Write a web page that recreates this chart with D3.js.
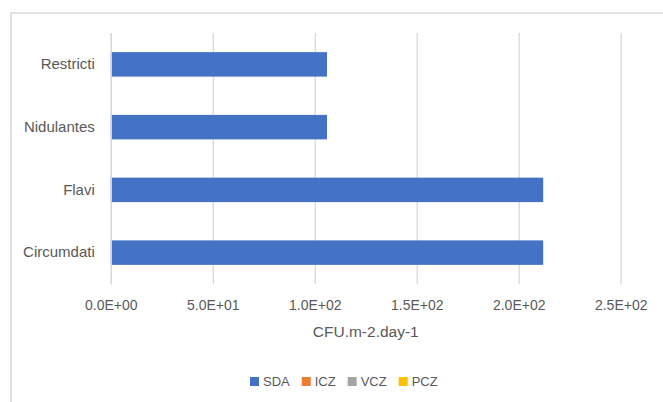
<!DOCTYPE html>
<html>
<head>
<meta charset="utf-8">
<script src="https://cdn.jsdelivr.net/npm/d3@7"></script>
<style>
  html, body { margin: 0; padding: 0; background: #fff; }
  svg { display: block; font-family: "Liberation Sans", Arial, sans-serif; }
</style>
</head>
<body>
<svg id="chart" width="663" height="402"></svg>
<script>
// ---- data ----
const categories = ["Circumdati", "Flavi", "Nidulantes", "Restricti"];
const seriesNames = ["SDA", "ICZ", "VCZ", "PCZ"];
const seriesColors = ["#4472C4", "#ED7D31", "#A5A5A5", "#FFC000"];
const sdaValues = [212, 212, 106, 106];
const iczValues = [0, 0, 0, 0];
const vczValues = [0, 0, 0, 0];
const pczValues = [0, 0, 0, 0];
const xTicks = [0, 50, 100, 150, 200, 250];
const xTickLabels = ["0.0E+00", "5.0E+01", "1.0E+02", "1.5E+02", "2.0E+02", "2.5E+02"];
const xAxisTitle = "CFU.m-2.day-1";

const allSeries = [sdaValues, iczValues, vczValues, pczValues];

const svg = d3.select("#chart");
const textColor = "#595959";
const gridColor = "#d9d9d9";

// chart border
svg.append("rect")
  .attr("x", 11).attr("y", 13)
  .attr("width", 700).attr("height", 450)
  .attr("fill", "none")
  .attr("stroke", "#d9d9d9")
  .attr("stroke-width", 1.5);

const plot = { left: 110.8, right: 620.7, top: 33, bottom: 284 };

const x = d3.scaleLinear().domain([0, 250]).range([plot.left, plot.right]);
const y = d3.scaleBand()
  .domain(categories.slice().reverse())
  .range([plot.top, plot.bottom])
  .paddingInner(0.61)
  .paddingOuter(0.305);

// gridlines via axis
const gx = svg.append("g")
  .attr("transform", `translate(0,${plot.bottom})`)
  .call(d3.axisBottom(x).tickValues(xTicks)
    .tickSize(plot.bottom - plot.top)
    .tickFormat((d, i) => xTickLabels[i]));
gx.select(".domain").remove();
gx.selectAll(".tick line")
  .attr("y2", -(plot.bottom - plot.top))
  .attr("stroke", gridColor)
  .attr("stroke-width", 1.3);
gx.selectAll(".tick text")
  .attr("y", 26)
  .attr("dy", null)
  .attr("fill", textColor)
  .attr("font-size", "14px")
  .attr("font-family", "'Liberation Sans', Arial, sans-serif");

// bars
allSeries.forEach((vals, si) => {
  svg.append("g").selectAll("rect")
    .data(vals.map((v, i) => ({ cat: categories[i], v })))
    .join("rect")
    .attr("x", x(0))
    .attr("y", d => y(d.cat))
    .attr("width", d => x(d.v) - x(0))
    .attr("height", y.bandwidth())
    .attr("fill", seriesColors[si]);
});

// category axis
const gy = svg.append("g")
  .attr("transform", `translate(${plot.left},0)`)
  .call(d3.axisLeft(y).tickSize(0).tickPadding(16));
gy.select(".domain")
  .attr("stroke", gridColor)
  .attr("stroke-width", 1.3);
gy.selectAll(".tick text")
  .attr("fill", textColor)
  .attr("font-size", "15px")
  .attr("font-family", "'Liberation Sans', Arial, sans-serif");

// axis title
svg.append("text")
  .attr("x", (plot.left + plot.right) / 2)
  .attr("y", 337)
  .attr("text-anchor", "middle")
  .attr("fill", textColor)
  .attr("font-size", "15.5px")
  .text(xAxisTitle);

// legend
const legend = svg.append("g");
let lx = 250;
seriesNames.forEach((name, i) => {
  legend.append("rect")
    .attr("x", lx).attr("y", 377)
    .attr("width", 9).attr("height", 9)
    .attr("fill", seriesColors[i]);
  const t = legend.append("text")
    .attr("x", lx + 13).attr("y", 386)
    .attr("fill", textColor)
    .attr("font-size", "13px")
    .text(name);
  lx += 13 + t.node().getComputedTextLength() + 12;
});
</script>
</body>
</html>
